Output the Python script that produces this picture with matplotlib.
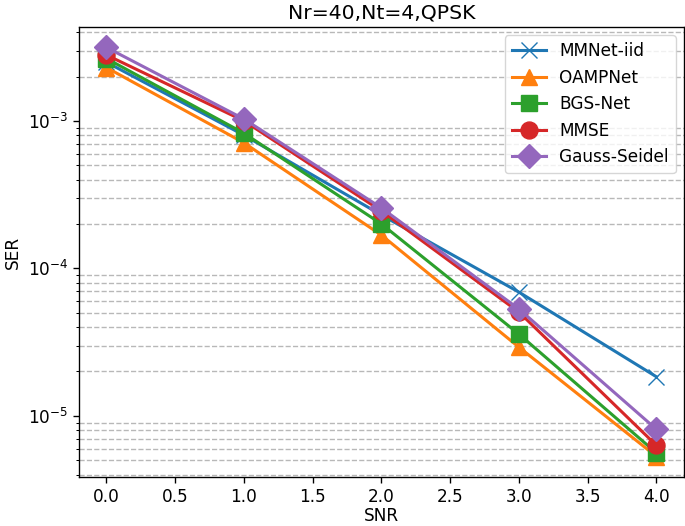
import numpy as np
import matplotlib
matplotlib.use('Agg')
import matplotlib.pyplot as plt

# Daten
snr = [0, 1, 2, 3, 4]
ser_mmnet = [2.5e-3, 8.0e-4, 2.3e-4, 6.9e-5, 1.84e-5]
ser_oamp = [2.3e-3, 7.1e-4, 1.68e-4, 2.92e-5, 5.3e-6]
ser_bgs = [2.65e-3, 8.25e-4, 2.0e-4, 3.58e-5, 5.6e-6]
ser_mmse = [2.8e-3, 1.0e-3, 2.45e-4, 5.05e-5, 6.3e-6]
ser_gs = [3.15e-3, 1.03e-3, 2.57e-4, 5.3e-5, 8.1e-6]

# etwas groesser skaliert als Standard
s = 1.22
plt.rcParams['font.size'] = 10 * s
plt.rcParams['axes.linewidth'] = 0.8 * s
plt.rcParams['xtick.major.size'] = 3.5 * s
plt.rcParams['ytick.major.size'] = 3.5 * s
plt.rcParams['ytick.minor.size'] = 2 * s
plt.rcParams['xtick.major.width'] = 0.8 * s
plt.rcParams['ytick.major.width'] = 0.8 * s
plt.rcParams['ytick.minor.width'] = 0.6 * s

fig = plt.figure(figsize=(6.85, 5.26), dpi=100)
ax = fig.add_axes([0.1153, 0.0932, 0.8832, 0.8555])

ms = 10 * s
lw = 2.2
ax.plot(snr, ser_mmnet, label='MMNet-iid', marker='x', markersize=ms, linewidth=lw)
ax.plot(snr, ser_oamp, label='OAMPNet', marker='^', markersize=ms, linewidth=lw)
ax.plot(snr, ser_bgs, label='BGS-Net', marker='s', markersize=ms, linewidth=lw)
ax.plot(snr, ser_mmse, label='MMSE', marker='o', markersize=ms, linewidth=lw)
ax.plot(snr, ser_gs, label='Gauss-Seidel', marker='D', markersize=ms, linewidth=lw)

ax.set_yscale('log')
ax.set_xticks(np.arange(0, 4.5, 0.5))
ax.grid(True, which='minor', linestyle='--', color='#b8b8b8', linewidth=1.0)
ax.set_xlabel('SNR', labelpad=1)
ax.set_ylabel('SER')
ax.set_title('Nr=40,Nt=4,QPSK')
ax.legend(loc='upper right')

fig.savefig('out.png', dpi=100)
